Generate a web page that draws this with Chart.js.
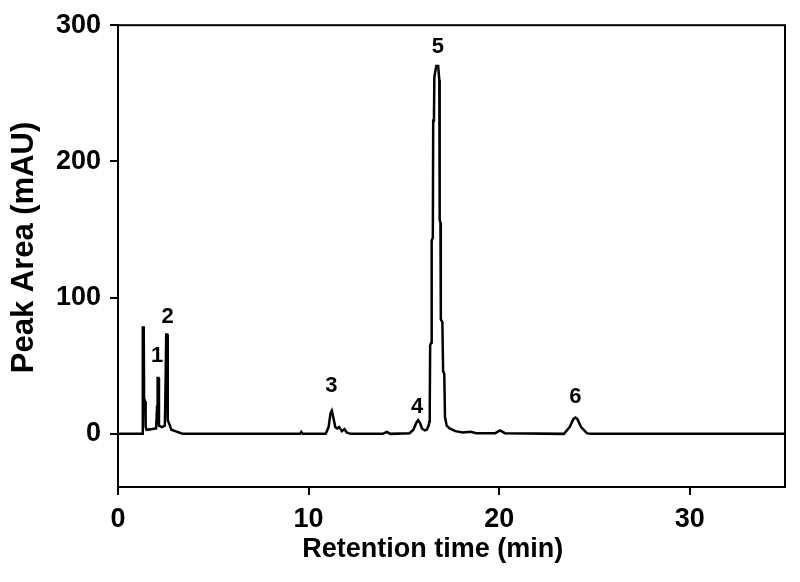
<!DOCTYPE html>
<html>
<head>
<meta charset="utf-8">
<script src="https://cdn.jsdelivr.net/npm/chart.js@4/dist/chart.umd.min.js"></script>
<style>
    html, body { margin: 0; padding: 0; background: #fff; }
    #wrap { width: 800px; height: 582px; }
</style>
</head>
<body>
<div id="wrap"><canvas id="chart"></canvas></div>
<script>
// retention time (min) and absorbance (mAU)
const times = [0, 1.26, 1.29, 1.31, 1.35, 1.37, 1.42, 1.45, 1.5, 1.8, 2.0, 2.05, 2.08, 2.12, 2.15, 2.3, 2.46, 2.5, 2.53, 2.58, 2.61, 2.7, 2.8, 3.0, 3.2, 3.4,
    9.55, 9.62, 9.7, 10.9, 11.05, 11.15, 11.22, 11.3, 11.4, 11.5, 11.6, 11.75, 11.88, 12.0, 12.2,
    13.9, 14.1, 14.3, 15.3, 15.5, 15.65, 15.75, 15.85, 15.95, 16.1, 16.2, 16.3, 16.34, 16.36, 16.38, 16.44, 16.46, 16.52, 16.54, 16.58, 16.6, 16.7, 16.8, 16.86, 16.88, 16.92, 16.94, 17.02, 17.06, 17.12, 17.16, 17.25, 17.4, 17.7, 18.1, 18.5, 18.8, 19.8, 20.05, 20.3,
    23.4, 23.7, 23.9, 24.0, 24.1, 24.3, 24.6, 24.8, 35];
const signal = [0, 0, 40, 78, 78, 26, 24, 5, 3, 3.5, 4, 20, 41, 41, 6, 5, 6, 40, 73, 73, 10, 7, 3, 2, 1, 0,
    0, 1.5, 0, 0, 5, 15, 17, 12, 5, 4, 5, 2, 3.5, 1, 0,
    0, 1.5, 0, 0.5, 3, 8, 10, 8, 4, 2.5, 3, 6, 9, 20, 65, 67, 142, 144, 230, 232, 262, 270, 270, 260, 157, 155, 84, 82, 46, 44, 12, 6, 4, 2, 1, 1.5, 0.5, 0.5, 2.5, 0.5,
    0, 5, 11, 12, 11, 5, 0.5, 0, 0];

const xTicks = [0, 10, 20, 30];
const yTicks = [0, 100, 200, 300];

const peakNames = ['1', '2', '3', '4', '5', '6'];
const peakTimes = [2.05, 2.6, 11.2, 15.7, 16.78, 24.0];
const peakLabelY = [57, 86, 35, 20, 284, 27];

const fontFamily = 'Arial, "Liberation Sans", Helvetica, sans-serif';

const frame = {
    id: 'frame',
    afterDatasetsDraw(chart) {
        const {ctx, chartArea, scales} = chart;
        ctx.save();
        ctx.strokeStyle = '#000';
        ctx.lineWidth = 2;
        ctx.strokeRect(chartArea.left, chartArea.top, chartArea.right - chartArea.left, chartArea.bottom - chartArea.top);
        ctx.fillStyle = '#000';
        ctx.font = 'bold 22px ' + fontFamily;
        ctx.textAlign = 'center';
        ctx.textBaseline = 'middle';
        peakNames.forEach((name, i) => {
            ctx.fillText(name, scales.x.getPixelForValue(peakTimes[i]), scales.y.getPixelForValue(peakLabelY[i]));
        });
        ctx.restore();
    }
};

new Chart(document.getElementById('chart'), {
    type: 'scatter',
    data: {
        datasets: [{
            data: times.map((t, i) => ({x: t, y: signal[i]})),
            showLine: true,
            borderColor: '#000',
            borderWidth: 2.5,
            pointRadius: 0,
            tension: 0
        }]
    },
    options: {
        responsive: true,
        maintainAspectRatio: false,
        animation: false,
        layout: {padding: {top: 20, right: 15, left: 0, bottom: 0}},
        plugins: {legend: {display: false}, tooltip: {enabled: false}},
        scales: {
            x: {
                type: 'linear',
                min: 0,
                max: 35,
                afterBuildTicks: scale => { scale.ticks = xTicks.map(v => ({value: v})); },
                afterFit: scale => { scale.height = 95; },
                grid: {drawOnChartArea: false, drawTicks: true, tickLength: 8, color: '#000', lineWidth: 2},
                border: {display: true, color: '#000', width: 2},
                ticks: {color: '#000', padding: 8, maxRotation: 0, font: {family: fontFamily, size: 27, weight: 'bold'}},
                // trailing spaces nudge the title a little left, as in the original
                title: {display: true, text: 'Retention time (min)     ', color: '#000', padding: {top: 0, bottom: 16},
                    font: {family: fontFamily, size: 27, weight: 'bold'}}
            },
            y: {
                type: 'linear',
                min: -39,
                max: 300,
                afterBuildTicks: scale => { scale.ticks = yTicks.map(v => ({value: v})); },
                afterFit: scale => { scale.width = 118; },
                grid: {drawOnChartArea: false, drawTicks: true, tickLength: 8, color: '#000', lineWidth: 2},
                border: {display: true, color: '#000', width: 2},
                ticks: {color: '#000', padding: 9, font: {family: fontFamily, size: 27, weight: 'bold'}},
                title: {display: true, text: '  Peak Area (mAU)', color: '#000', padding: {top: 6, bottom: 0},
                    font: {family: fontFamily, size: 31, weight: 'bold'}}
            }
        }
    },
    plugins: [frame]
});
</script>
</body>
</html>
